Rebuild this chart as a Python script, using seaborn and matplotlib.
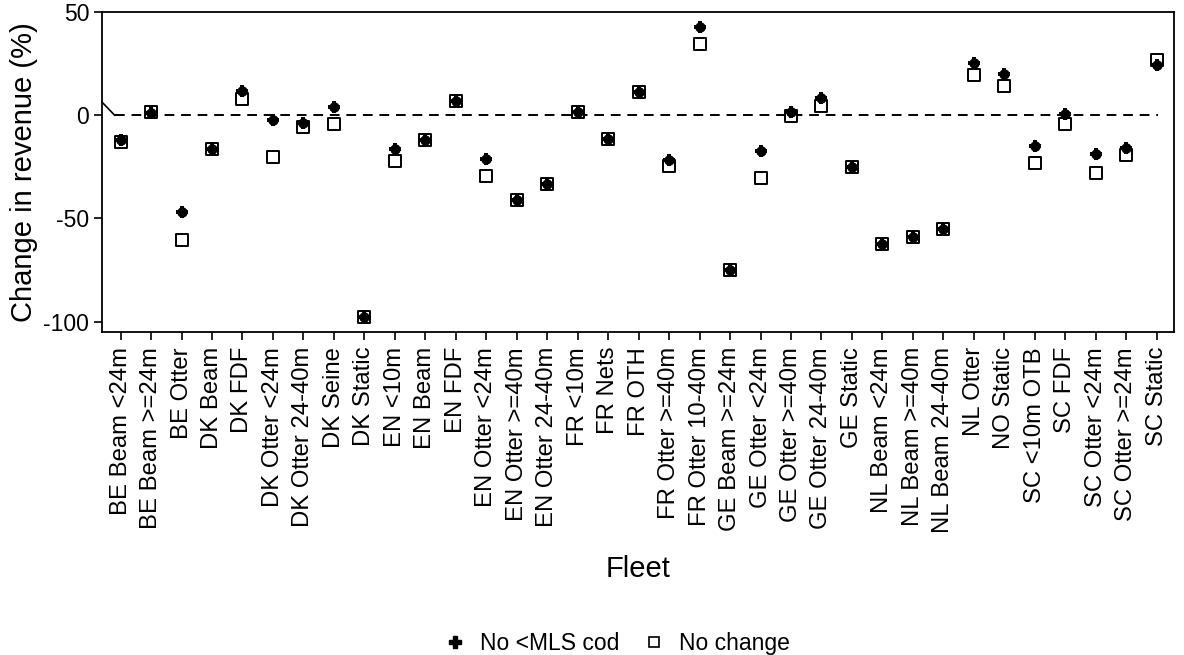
import matplotlib
matplotlib.use("Agg")
import matplotlib.pyplot as plt
from matplotlib.lines import Line2D
import seaborn as sns
import pandas as pd

fleets = ["BE Beam <24m", "BE Beam >=24m", "BE Otter", "DK Beam", "DK FDF",
          "DK Otter <24m", "DK Otter 24-40m", "DK Seine", "DK Static", "EN <10m",
          "EN Beam", "EN FDF", "EN Otter <24m", "EN Otter >=40m", "EN Otter 24-40m",
          "FR <10m", "FR Nets", "FR OTH", "FR Otter >=40m", "FR Otter 10-40m",
          "GE Beam >=24m", "GE Otter <24m", "GE Otter >=40m", "GE Otter 24-40m", "GE Static",
          "NL Beam <24m", "NL Beam >=40m", "NL Beam 24-40m", "NL Otter", "NO Static",
          "SC <10m OTB", "SC FDF", "SC Otter <24m", "SC Otter >=24m", "SC Static"]

no_mls_cod = [-12.0, 1.3, -46.8, -16.5, 11.9,
              -2.3, -3.9, 3.9, -98.0, -16.5,
              -11.7, 6.9, -21.2, -41.1, -33.5,
              1.5, -11.5, 11.5, -21.7, 43.0,
              -74.8, -17.3, 1.5, 8.5, -25.0,
              -62.5, -58.9, -55.3, 25.2, 20.0,
              -14.8, 0.5, -18.5, -15.7, 24.4]

no_change = [-12.8, 1.5, -60.5, -16.5, 7.8,
             -20.4, -5.5, -4.4, -98.0, -22.0,
             -11.7, 6.9, -29.3, -41.1, -33.5,
             1.5, -11.5, 11.5, -24.5, 34.6,
             -74.8, -30.3, -0.2, 4.5, -25.0,
             -62.5, -58.9, -55.3, 19.6, 14.2,
             -23.3, -4.4, -27.7, -19.4, 26.8]

series_labels = ["No <MLS cod", "No change"]

sns.set_theme(style="white")
plt.rcParams["font.family"] = ["Liberation Sans", "DejaVu Sans"]
plt.rcParams["text.color"] = "black"
plt.rcParams["axes.labelcolor"] = "black"

df_mls = pd.DataFrame({"Fleet": fleets, "value": no_mls_cod})
df_nc = pd.DataFrame({"Fleet": fleets, "value": no_change})

fig = plt.figure(figsize=(11.84, 6.55), dpi=100)
ax = fig.add_axes([0.0859, 0.4936, 0.9057, 0.4876])

# reference line at zero
ax.plot([-0.19, 34.04], [0, 0], color="black", lw=1.4, ls=(0, (5, 3.5)), zorder=1)
ax.plot([-0.62, -0.19], [6.6, 0], color="black", lw=1.2, zorder=1, clip_on=False)

sns.stripplot(data=df_nc, x="Fleet", y="value", order=fleets, jitter=False,
              marker="s", s=8, color="white", edgecolor="black", linewidth=1.4,
              ax=ax, zorder=3)
sns.stripplot(data=df_mls, x="Fleet", y="value", order=fleets, jitter=False,
              marker="o", s=7.5, color="black", linewidth=0, ax=ax, zorder=4)
sns.stripplot(data=df_mls, x="Fleet", y="value", order=fleets, jitter=False,
              marker="P", s=9, color="black", linewidth=0, ax=ax, zorder=4)

ax.set_xlim(-0.62, 34.57)
ax.set_ylim(-104.9, 50)
ax.set_yticks([-100, -50, 0, 50])
ax.set_yticklabels(["-100", "-50", "0", "50"])
ax.set_xticks(range(len(fleets)))
ax.set_xticklabels(fleets, rotation=90)

for s in ax.spines.values():
    s.set_visible(True)
    s.set_color("black")
    s.set_linewidth(1.3)

ax.tick_params(axis="both", which="major", direction="out", length=6, width=1.2,
               color="black", labelsize=16.5, labelcolor="black", pad=3,
               bottom=True, left=True)
ax.tick_params(axis="x", labelsize=17.2, pad=5)
ax.set_xlabel("Fleet", fontsize=21, color="black", labelpad=16)
ax.set_ylabel("Change in revenue (%)", fontsize=21, color="black", labelpad=4)

handles = [Line2D([], [], marker="P", ls="none", color="black", markersize=8),
           Line2D([], [], marker="s", ls="none", markerfacecolor="white",
                  markeredgecolor="black", markeredgewidth=1.2, markersize=7)]
leg = fig.legend(handles, series_labels, loc="center", bbox_to_anchor=(0.521, 0.017),
                 ncol=2, frameon=False, fontsize=16.5, handletextpad=0.6,
                 columnspacing=1.0, handlelength=1.0, borderaxespad=0, borderpad=0)
for t in leg.get_texts():
    t.set_color("black")

fig.savefig("out.png", dpi=100)
